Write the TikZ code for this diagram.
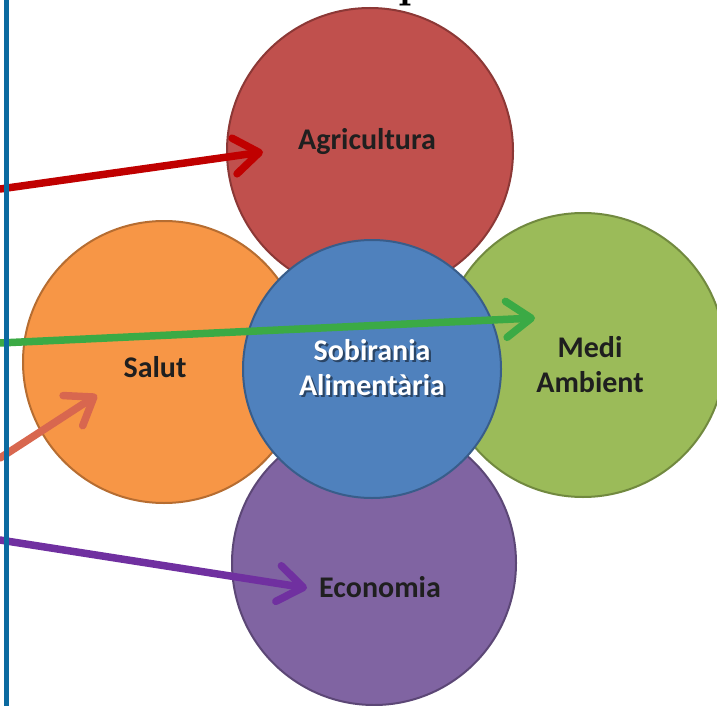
\documentclass[tikz,border=0pt]{standalone}
\usepackage{fontspec}
\newfontfamily\carlito{Carlito}
\usetikzlibrary{arrows.meta}
\definecolor{agri}{HTML}{C0504D}
\definecolor{agriB}{HTML}{8C3836}
\definecolor{salut}{HTML}{F79646}
\definecolor{salutB}{HTML}{B66D31}
\definecolor{medi}{HTML}{9BBB59}
\definecolor{mediB}{HTML}{71893F}
\definecolor{eco}{HTML}{8064A2}
\definecolor{ecoB}{HTML}{5C4776}
\definecolor{sob}{HTML}{4F81BD}
\definecolor{sobB}{HTML}{385D8A}
\definecolor{sobSh}{HTML}{2A4566}
\definecolor{vline}{HTML}{0B6AA0}
\definecolor{aRed}{HTML}{C00000}
\definecolor{aGreen}{HTML}{3BAA45}
\definecolor{aSalmon}{HTML}{D8674F}
\definecolor{aPurple}{HTML}{7030A0}
\newcommand\shadowtxt[1]{\makebox[0pt][l]{\hspace{2.2pt}\raisebox{-2.2pt}{\textcolor{sobSh}{#1}}}#1}
\begin{document}
\begin{tikzpicture}[x=1pt,y=-1pt,
  petal/.style={circle, draw, line width=2pt, inner sep=0pt},
  lbl/.style={font=\carlito\bfseries\fontsize{30}{35}\selectfont, text=black!88, align=center, inner sep=0pt},
  pointer/.style={line width=7.5pt, line cap=round, line join=round,
    -{Straight Barb[length=25pt, width=36pt, line cap=round, line join=round]}}]
\useasboundingbox (0,0) rectangle (717,706);
\fill[white] (0,0) rectangle (717,706);
% circles
\node[petal, fill=agri, draw=agriB, minimum size=286pt] (agri) at (370,151) {};
\node[petal, fill=salut, draw=salutB, minimum size=282pt] (salut) at (164,362) {};
\node[petal, fill=medi, draw=mediB, minimum size=284pt] (medi) at (583,355) {};
\node[petal, fill=eco, draw=ecoB, minimum size=284pt] (eco) at (374,563) {};
\node[petal, fill=sob, draw=sobB, minimum size=258pt] (sob) at (372,369) {};
% labels
\node[lbl] (tagri) at (367,142) {Agricultura};
\node[lbl] (tsalut) at (155,367) {Salut};
\node[lbl] (tmedi) at (590,365) {Medi\\Ambient};
\node[lbl] (teco) at (380,587) {Economia};
\node[lbl, text=white] (tsob) at (372,368.5) {\shadowtxt{Sobirania}\\\shadowtxt{Alimentària}};
% arrow ends
\coordinate (sRed) at (0,189);
\coordinate (eRed) at (263,152);
\coordinate (sGreen) at (0,343);
\coordinate (eGreen) at (535,318);
\coordinate (sSalmon) at (0,458);
\coordinate (eSalmon) at (97,395);
\coordinate (sPurple) at (0,540);
\coordinate (ePurple) at (307,588);
\draw[pointer, draw=aRed] (sRed) -- (eRed);
\draw[pointer, draw=aGreen] (sGreen) -- (eGreen);
\draw[pointer, draw=aSalmon] (sSalmon) -- (eSalmon);
\draw[pointer, draw=aPurple] (sPurple) -- (ePurple);
% vertical rule
\coordinate (vtop) at (6.5,0);
\coordinate (vbot) at (6.5,706);
\draw[vline, line width=5pt] (vtop) -- (vbot);
% fragment of heading text above
\node[anchor=base west, inner sep=0pt, font=\bfseries\fontsize{44}{44}\selectfont] (ptxt) at (398,-2) {p};
\end{tikzpicture}
\end{document}
